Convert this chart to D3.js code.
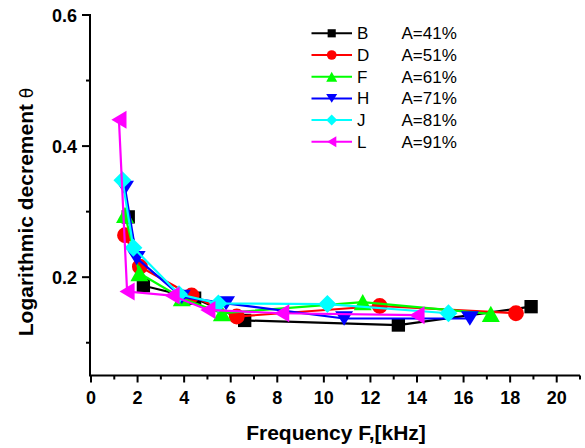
<!DOCTYPE html>
<html><head><meta charset="utf-8">
<script src="https://cdn.jsdelivr.net/npm/d3@7"></script>
<style>body{margin:0;background:#fff}svg{display:block}text{font-family:Arial,"Liberation Sans",sans-serif}</style>
</head><body><svg id="c" width="585" height="448"></svg>
<script>
const seriesNames = ["B","D","F","H","J","L"];
const seriesLabels = ["A=41%","A=51%","A=61%","A=71%","A=81%","A=91%"];
const seriesColors = ["#000000","#ff0000","#00ff00","#0000ff","#00ffff","#ff00ff"];
const seriesShapes = ["square","circle","up","down","diamond","left"];
const freqB = [1.60, 2.25, 4.45, 6.6, 13.2, 18.9];
const thetaB = [0.292, 0.187, 0.168, 0.134, 0.127, 0.155];
const freqD = [1.46, 2.1, 4.32, 6.26, 12.4, 18.25];
const thetaD = [0.264, 0.216, 0.172, 0.140, 0.156, 0.145];
const freqF = [1.46, 2.08, 3.9, 5.62, 11.67, 17.17];
const thetaF = [0.295, 0.206, 0.168, 0.145, 0.162, 0.144];
const freqH = [1.46, 1.96, 3.9, 5.8, 10.87, 16.27];
const thetaH = [0.336, 0.229, 0.170, 0.160, 0.137, 0.137];
const freqJ = [1.35, 1.82, 3.78, 5.47, 10.15, 15.35];
const thetaJ = [0.348, 0.245, 0.174, 0.160, 0.159, 0.145];
const freqL = [1.2, 1.55, 3.48, 5.02, 8.19, 14.0];
const thetaL = [0.440, 0.178, 0.172, 0.150, 0.145, 0.142];
const xTicks = [0,2,4,6,8,10,12,14,16,18,20];
const yTicks = [0.2,0.4,0.6];

const freqs = [freqB,freqD,freqF,freqH,freqJ,freqL];
const thetas = [thetaB,thetaD,thetaF,thetaH,thetaJ,thetaL];

const svg = d3.select("#c");
const x = d3.scaleLinear().domain([0,21]).range([91,580]);
const y = d3.scaleLinear().domain([0.05,0.6]).range([375.5,15]);

function shapePath(shape, s){
  const h = s/2;
  switch(shape){
    case "square": { const a=s*0.37; return `M${-a},${-a}H${a}V${a}H${-a}Z`; }
    case "circle": { const r=s*0.44; return `M${r},0A${r},${r} 0 1,1 ${-r},0A${r},${r} 0 1,1 ${r},0Z`; }
    case "up": { const b=h, t=s*0.45; return `M0,${-t}L${b},${t}L${-b},${t}Z`; }
    case "down": { const b=h, t=s*0.4; return `M0,${t}L${b},${-t}L${-b},${-t}Z`; }
    case "diamond": return `M0,${-h}L${h},0L0,${h}L${-h},0Z`;
    case "left": { const b=h, t=s*0.42; return `M${-t},0L${t},${-b}L${t},${b}Z`; }
  }
}

// axes
const xAxis = svg.append("g").attr("transform","translate(0,375.5)");
xAxis.append("line").attr("x1",90).attr("x2",580).attr("y1",0).attr("y2",0).attr("stroke","#000").attr("stroke-width",2);
d3.range(0,22).forEach(v=>{
  const major = v%2===0;
  xAxis.append("line").attr("x1",x(v)).attr("x2",x(v)).attr("y1",0).attr("y2",major?7:4).attr("stroke","#000").attr("stroke-width",2);
});
xAxis.selectAll("text.t").data(xTicks).enter().append("text")
  .attr("x",d=>x(d)).attr("y",28).attr("text-anchor","middle")
  .attr("font-size",18).attr("font-weight","bold").text(d=>d);

const yAxis = svg.append("g");
yAxis.append("line").attr("x1",90).attr("x2",90).attr("y1",14).attr("y2",376.5).attr("stroke","#000").attr("stroke-width",2);
[0.1,0.2,0.3,0.4,0.5,0.6].forEach(v=>{
  const major = Math.round(v*10)%2===0;
  yAxis.append("line").attr("x1",90).attr("x2",major?82:86).attr("y1",y(v)).attr("y2",y(v)).attr("stroke","#000").attr("stroke-width",2);
});
yAxis.selectAll("text.t").data(yTicks).enter().append("text")
  .attr("x",77).attr("y",d=>y(d)+6.5).attr("text-anchor","end")
  .attr("font-size",18).attr("font-weight","bold").text(d=>d.toFixed(1));

svg.append("text").attr("x",336).attr("y",440).attr("text-anchor","middle")
  .attr("font-size",21).attr("font-weight","bold").text("Frequency F,[kHz]");
const yt = svg.append("text").attr("transform","translate(33,212) rotate(-90)").attr("text-anchor","middle")
  .attr("font-size",21).attr("font-weight","bold");
yt.append("tspan").text("Logarithmic decrement ");
yt.append("tspan").attr("font-weight","normal").attr("font-family","'DejaVu Sans',sans-serif").attr("font-size",17).text("θ");

// series
const line = d3.line().x(d=>x(d[0])).y(d=>y(d[1]));
seriesNames.forEach((n,i)=>{
  const pts = freqs[i].map((f,j)=>[f,thetas[i][j]]);
  const g = svg.append("g");
  g.append("path").attr("d",line(pts)).attr("fill","none").attr("stroke",seriesColors[i]).attr("stroke-width",2.2);
  g.selectAll("path.m").data(pts).enter().append("path").attr("class","m")
    .attr("transform",d=>`translate(${x(d[0])},${y(d[1])})`)
    .attr("d",shapePath(seriesShapes[i],18)).attr("fill",seriesColors[i]);
});

// legend
const lg = svg.append("g");
seriesNames.forEach((n,i)=>{
  const cy = 33.3 + i*21.7;
  lg.append("line").attr("x1",311.5).attr("x2",352).attr("y1",cy).attr("y2",cy).attr("stroke",seriesColors[i]).attr("stroke-width",2);
  lg.append("path").attr("transform",`translate(331.7,${cy})`).attr("d",shapePath(seriesShapes[i],11)).attr("fill",seriesColors[i]);
  lg.append("text").attr("x",357).attr("y",cy+6).attr("font-size",17).text(n);
  lg.append("text").attr("x",401.5).attr("y",cy+6).attr("font-size",17).text(seriesLabels[i]);
});
</script></body></html>
